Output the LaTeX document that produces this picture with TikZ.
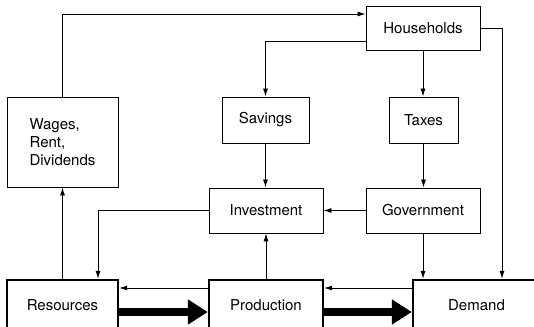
\documentclass[tikz,border=0pt]{standalone}
\usepackage{fontspec}
\setsansfont{TeX Gyre Heros}
\usetikzlibrary{arrows.meta}

\begin{document}
\begin{tikzpicture}[x=1pt,y=-1pt,
            every node/.style={font=\sffamily\fontsize{15}{18}\selectfont},
            box/.style={draw,line width=0.9pt,inner sep=0pt,anchor=center},
            heavy/.style={box,line width=2.4pt},
            flow/.style={line width=0.8pt,-{Latex[length=8pt,width=5pt]}},
            bigflow/.style={line width=8pt,-{Triangle[length=20pt,width=24pt]}}]
            \useasboundingbox (0,0) rectangle (534,326);
            % boxes
            \node [box,minimum width=114pt,minimum height=44pt] (households) at (423,28) {Households};
            \node [box,minimum width=111pt,minimum height=90pt,align=left] (wages) at (62.5,142) {Wages,\\Rent,\\Dividends};
            \node [box,minimum width=87pt,minimum height=46pt] (savings) at (265.5,120) {Savings};
            \node [box,minimum width=69pt,minimum height=46pt] (taxes) at (423.5,120) {Taxes};
            \node [box,minimum width=114pt,minimum height=45pt] (investment) at (266,210.5) {Investment};
            \node [box,minimum width=114pt,minimum height=45pt] (government) at (423,210.5) {Government};
            \node [heavy,minimum width=111pt,minimum height=50pt] (resources) at (62.5,305) {Resources};
            \node [heavy,minimum width=114pt,minimum height=50pt] (production) at (266,305) {Production};
            \node [heavy,minimum width=127pt,minimum height=50pt] (demand) at (476.5,305) {Demand};
            % money flows
            \draw [flow] (wages.north) |- ([yshift=14pt]households.west);
            \draw [flow] (households.east) -| ([xshift=25.5pt]demand.north);
            \draw [flow] ([yshift=-13pt]households.west) -| (savings.north);
            \draw [flow] (households.south) -- (households.south |- taxes.north);
            \draw [flow] (savings.south) -- (savings.south |- investment.north);
            \draw [flow] (taxes.south) -- (taxes.south |- government.north);
            \draw [flow] (government.west) -- (investment.east);
            \draw [flow] (investment.west) -| ([xshift=35.5pt]resources.north);
            \draw [flow] (production.north) -- (investment.south);
            \draw [flow] (government.south) -- (government.south |- demand.north);
            \draw [flow] (resources.north) -- (wages.south);
            \draw [flow] ([yshift=17pt]production.west) -- ([yshift=17pt]resources.east);
            \draw [flow] ([yshift=17pt]demand.west) -- ([yshift=17pt]production.east);
            % goods flows
            \draw [bigflow] ([yshift=-7pt]resources.east) -- ([yshift=-7pt]production.west);
            \draw [bigflow] ([yshift=-7pt]production.east) -- ([yshift=-7pt]demand.west);
\end{tikzpicture}
\end{document}
